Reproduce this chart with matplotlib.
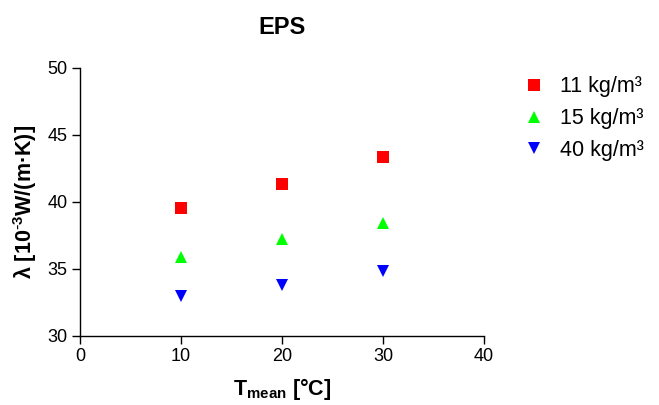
import matplotlib
matplotlib.use("Agg")
import matplotlib.pyplot as plt

plt.rcParams['font.family'] = ['Liberation Sans', 'DejaVu Sans']
plt.rcParams['mathtext.default'] = 'regular'

title = "EPS"
temperatures = [10, 20, 30]
series_labels = ["11 kg/m³", "15 kg/m³", "40 kg/m³"]
lambda_11 = [39.5, 41.3, 43.3]
lambda_15 = [35.9, 37.2, 38.4]
lambda_40 = [33.0, 33.8, 34.8]
x_ticks = [0, 10, 20, 30, 40]
y_ticks = [30, 35, 40, 45, 50]

fig = plt.figure(figsize=(6.59, 4.05), dpi=100)
ax = fig.add_axes([80/659, 1-335.7/405, (484-80)/659, (335.7-67.7)/405])

styles = [("s", "#ff0000"), ("^", "#00ff00"), ("v", "#0000ff")]
for vals, lab, (m, c) in zip([lambda_11, lambda_15, lambda_40], series_labels, styles):
    ax.plot(temperatures, vals, linestyle="none", marker=m, color=c,
            markersize=8.5, markeredgewidth=0, label=lab, clip_on=False)

ax.set_xlim(0, 40)
ax.set_ylim(30, 50)
ax.set_xticks(x_ticks)
ax.set_yticks(y_ticks)
ax.tick_params(labelsize=13, length=5.8, width=1.0, direction="out", pad=3)
for s in ["top", "right"]:
    ax.spines[s].set_visible(False)
for s in ["left", "bottom"]:
    ax.spines[s].set_linewidth(1.0)

ax.set_title(title, fontsize=17, fontweight="bold", pad=24)
ax.set_xlabel(r"T$_{mean}$ [°C]", fontsize=15.5, fontweight="bold", labelpad=8)
ax.set_ylabel(r"λ [10$^{\text{-}3}$W/(m·K)]", fontsize=15.5, fontweight="bold", labelpad=6)

leg = ax.legend(loc="upper left", bbox_to_anchor=(1.08, 1.0), frameon=False,
                fontsize=15.5, handlelength=0.8, handletextpad=0.85,
                labelspacing=0.5, borderaxespad=0)

fig.savefig("out.png", dpi=100)
